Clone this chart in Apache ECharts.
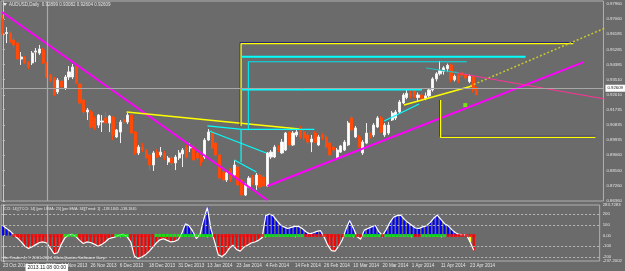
<!DOCTYPE html>
<html><head><meta charset="utf-8">
<script src="https://cdn.jsdelivr.net/npm/echarts@6/dist/echarts.min.js"></script>
<style>html,body{margin:0;padding:0;background:#6b6b6b;overflow:hidden}#c{width:625px;height:271px}</style>
</head><body><div id="c"></div>
<script>
// ---- data ----
const tickIdx = [0,8,16,24,32,40,48,56,64,72,80,88,96,104,112,120,128];
const tickLabels = ['23 Oct 2013','4 Nov 2013','14 Nov 2013','26 Nov 2013','6 Dec 2013','18 Dec 2013','31 Dec 2013','13 Jan 2014','23 Jan 2014','4 Feb 2014','14 Feb 2014','26 Feb 2014','10 Mar 2014','20 Mar 2014','1 Apr 2014','11 Apr 2014','23 Apr 2014'];
const priceTicks = [0.97960,0.97060,0.96185,0.95285,0.94385,0.93510,0.92610,0.91735,0.90835,0.89935,0.89060,0.88160,0.87260,0.86360];
const cciTicks = [283.7283,200,100,0,-100,-200,-237.2002];
const cciLevels = [200,100,-100,-200];
// [open, close, low, high]
const ohlc = [
[.9708,.9625,.9613,.9731],[.9622,.9628,.9566,.9660],[.9625,.9572,.9566,.9637],[.9584,.9555,.9543,.9596],[.9566,.9472,.9466,.9572],
[.9472,.9484,.9437,.9513],[.9484,.9449,.9443,.9490],[.9454,.9425,.9413,.9460],[.9449,.9507,.9437,.9519],[.9513,.9519,.9454,.9537],
[.9507,.9531,.9496,.9555],[.9525,.9449,.9443,.9537],[.9449,.9366,.9360,.9454],[.9378,.9348,.9337,.9384],[.9360,.9260,.9254,.9366],
[.9278,.9348,.9266,.9360],[.9342,.9307,.9295,.9348],[.9301,.9366,.9290,.9378],[.9366,.9396,.9348,.9431],[.9366,.9425,.9354,.9443],
[.9431,.9331,.9325,.9443],[.9325,.9213,.9207,.9331],[.9231,.9160,.9148,.9237],[.9160,.9172,.9113,.9184],[.9160,.9072,.9066,.9172],
[.9125,.9066,.9054,.9136],[.9083,.9142,.9066,.9148],[.9101,.9107,.9042,.9142],[.9125,.9095,.9089,.9160],[.9095,.9136,.9042,.9142],
[.9130,.9025,.8995,.9136],[.9013,.9054,.9007,.9060],[.9042,.9101,.8977,.9113],[.9113,.9101,.9089,.9125],[.9101,.9142,.9089,.9154],
[.9142,.9036,.9030,.9148],[.9042,.8919,.8907,.9048],[.8919,.8954,.8907,.8966],[.8954,.8936,.8924,.8977],[.8936,.8889,.8883,.8942],
[.8907,.8848,.8818,.8919],[.8848,.8919,.8813,.8930],[.8924,.8895,.8889,.8942],[.8907,.8924,.8895,.8954],[.8919,.8889,.8877,.8930],
[.8866,.8889,.8848,.8901],[.8889,.8860,.8848,.8901],[.8860,.8895,.8818,.8907],[.8889,.8919,.8877,.8936],[.8913,.8936,.8836,.8948],
[.8954,.8895,.8889,.8966],[.8948,.8954,.8924,.8977],[.8954,.8877,.8871,.8966],[.8919,.8889,.8877,.8930],[.8895,.8866,.8842,.8907],
[.8895,.8995,.8883,.9007],[.8995,.9042,.8989,.9060],[.9042,.8948,.8942,.9054],[.8977,.8907,.8901,.8983],[.8907,.8771,.8766,.8913],
[.8807,.8760,.8748,.8818],[.8760,.8801,.8748,.8813],[.8818,.8760,.8748,.8830],[.8789,.8848,.8777,.8877],[.8836,.8730,.8724,.8848],
[.8760,.8671,.8659,.8766],[.8671,.8730,.8665,.8742],[.8718,.8771,.8712,.8783],[.8777,.8742,.8730,.8789],[.8730,.8789,.8701,.8801],
[.8789,.8718,.8712,.8801],[.8777,.8724,.8718,.8789],[.8724,.8919,.8718,.8924],[.8895,.8924,.8883,.8936],[.8895,.8954,.8889,.8966],
[.8954,.8936,.8924,.8966],[.8919,.8983,.8913,.9001],[.8936,.9036,.8930,.9042],[.9042,.8966,.8954,.9048],[.8966,.9036,.8960,.9048],
[.9025,.9042,.9013,.9054],[.9066,.9013,.9001,.9078],[.9042,.9007,.8995,.9054],[.9025,.8983,.8971,.9036],[.8983,.9001,.8924,.9025],
[.9036,.8983,.8977,.9048],[.8966,.9013,.8960,.9025],[.9025,.9007,.8995,.9036],[.9013,.8954,.8948,.9025],[.8977,.8907,.8901,.8989],
[.8954,.8936,.8924,.8960],[.8889,.8936,.8877,.8948],[.8924,.8960,.8919,.8966],[.8936,.8983,.8930,.8995],[.8966,.9095,.8960,.9107],
[.9125,.9054,.9048,.9136],[.9013,.9066,.9007,.9078],[.9013,.8954,.8948,.9025],[.8919,.8983,.8907,.8995],[.8977,.9036,.8971,.9095],
[.9036,.9007,.8995,.9048],[.9025,.9083,.9013,.9095],[.9072,.9125,.9066,.9136],[.9125,.9042,.9036,.9136],[.9025,.9083,.9013,.9095],
[.9036,.9083,.9025,.9101],[.9113,.9154,.9107,.9166],[.9125,.9160,.9113,.9172],[.9160,.9219,.9154,.9231],[.9213,.9260,.9207,.9272],
[.9245,.9270,.9235,.9290],[.9270,.9255,.9240,.9285],[.9290,.9250,.9240,.9300],[.9245,.9260,.9225,.9275],[.9260,.9240,.9225,.9270],
[.9240,.9255,.9230,.9275],[.9255,.9290,.9245,.9300],[.9290,.9355,.9280,.9365],[.9355,.9385,.9340,.9395],[.9385,.9405,.9375,.9461],
[.9400,.9420,.9380,.9430],[.9415,.9435,.9395,.9445],[.9435,.9350,.9335,.9445],[.9350,.9370,.9340,.9380],[.9375,.9340,.9330,.9385],
[.9390,.9378,.9365,.9400],[.9380,.9360,.9350,.9390],[.9340,.9370,.9330,.9380],[.9365,.9290,.9275,.9375],[.92899,.92609,.92604,.93082]
];
const cci = [
90,65,40,5,-25,-60,-100,-120,-105,-85,
-65,-60,-70,-120,-170,-160,-80,-20,5,10,
-10,-45,-75,-60,-65,-80,-100,-85,-60,-30,
-20,-10,5,10,-10,-60,-190,-215,-200,-180,
-150,-110,-70,-40,-30,-45,-60,-55,-40,20,
110,90,40,-30,10,150,260,60,-60,-180,
-195,-170,-120,-90,-130,-145,-110,-90,-70,-60,
-45,-20,185,200,185,140,100,80,65,75,
85,85,65,35,15,25,38,45,-15,-90,
-140,-145,-100,-40,60,140,70,-10,-35,50,
65,80,95,35,0,55,120,170,185,190,
150,120,95,70,65,80,90,120,160,190,
150,110,90,55,25,10,6,8,-60,-138.1845
];
// [firstIndex, lastIndex, direction]
const trendRuns = [[3,16,-1],[17,20,1],[21,30,-1],[31,34,1],[35,41,-1],[42,57,1],[58,71,-1],[72,82,1],[83,93,-1],[94,96,1],[97,98,-1],[99,103,1],[104,104,-1],[105,112,1],[113,114,-1],[115,121,1],[122,129,-1]];
const yellowIdx = [3,34,54,71,88,128];
const bid = 0.92609;
const vLineIdx = 12;
const vLineLabel = '2013.11.08 00:00';
// drawn objects: [index, price]
const objMagentaDown = [[-0.23,0.9749],[72.0,0.8642]];
const objMagentaUp = [[72.0,0.8724],[158.1,0.9454]];
const objYellowTrend = [[33.7,0.9160],[80.7,0.9060]];
const objYellowBox = [[155.3,0.9563],[64.85,0.9563],[64.85,0.9078]];
const objNavyBox = [[155.3,0.9569],[64.6,0.9569],[64.6,0.9078]];
const objCyanTop = [[64.85,0.9486],[142.3,0.9486]];
const objCyanBox = [[66.84,0.9053],[66.84,0.9456],[126.3,0.9456]];
const objCyanMid = [[64.85,0.9291],[114.1,0.9291]];
const objRedMid = [[64.85,0.9298],[114.1,0.9298]];
const objCyanA = [[55.7,0.9078],[65.2,0.9058],[84.8,0.9058]];
const objCyanB = [[56.2,0.9048],[71.7,0.8919]];
const objCyanC = [[64.85,0.9054],[64.85,0.8866]];
const objCyanD = [[63.0,0.8877],[69.0,0.8807]];
const objYellowUp = [[109.2,0.9201],[127.7,0.9313]];
const objOliveDot = [[127.2,0.9313],[164,0.9655]];
const objCyanE = [[103.8,0.9107],[113.3,0.9207]];
const objCyanF = [[115.2,0.9419],[124.1,0.9390]];
const objPink = [[123.6,0.9390],[163.8,0.9237]];
const objYellowL = [[119.15,0.9231],[119.15,0.9011],[161.3,0.9011]];
const objNavyL = [[118.9,0.9231],[118.9,0.9017],[161.3,0.9017]];
const objGreenDot = [[125.9,0.9201]];

// ---- chart ----
const FONT = 'Liberation Sans';
const TXT = '#e4e4e4';
const chart = echarts.init(document.getElementById('c'), null, {renderer:'canvas'});
const XMIN = -0.5, XMAX = 163.5;

function seg(pts, color, width, type) {
  return {type:'line', xAxisIndex:0, yAxisIndex:0, data:pts, symbol:'none', silent:true, animation:false,
    lineStyle:{color:color, width:width, type:type||'solid'}, z:4};
}
const trendUp = [], trendDn = [];
trendRuns.forEach(r => { for (let i=r[0]; i<=r[1]; i++) (r[2]>0?trendUp:trendDn).push([i,0]); });

const option = {
  backgroundColor:'#6b6b6b',
  animation:false,
  grid:[
    {left:1, right:20, top:1, height:200, show:true, borderColor:'#b0b0b0', borderWidth:1, backgroundColor:'transparent'},
    {left:1, right:20, top:205, height:56, show:true, borderColor:'#b0b0b0', borderWidth:1, backgroundColor:'transparent'}
  ],
  xAxis:[
    {type:'value', gridIndex:0, min:XMIN, max:XMAX, show:false},
    {type:'value', gridIndex:1, min:XMIN, max:XMAX, axisLine:{show:false}, splitLine:{show:false},
      axisTick:{show:true, customValues:tickIdx, length:2, lineStyle:{color:'#c8c8c8'}},
      axisLabel:{show:true, customValues:tickIdx, align:'left', margin:2, color:TXT, fontSize:4.6, fontFamily:FONT,
        formatter:v => tickLabels[tickIdx.indexOf(Math.round(v))] || ''}}
  ],
  yAxis:[
    {type:'value', gridIndex:0, position:'right', min:0.8636, max:0.98137, scale:true,
      axisLine:{show:true, lineStyle:{color:'#c8c8c8'}}, splitLine:{show:false},
      axisTick:{show:true, customValues:priceTicks, length:2, inside:false, lineStyle:{color:'#c8c8c8'}},
      axisLabel:{show:true, customValues:priceTicks, margin:3, color:TXT, fontSize:4.3, fontFamily:FONT,
        formatter:v => v.toFixed(5)}},
    {type:'value', gridIndex:1, position:'right', min:-237.2002, max:283.7283,
      axisLine:{show:true, lineStyle:{color:'#c8c8c8'}}, splitLine:{show:false},
      axisTick:{show:true, customValues:cciTicks, length:2, lineStyle:{color:'#c8c8c8'}},
      axisLabel:{show:true, customValues:cciTicks, margin:3, color:TXT, fontSize:4.3, fontFamily:FONT,
        formatter:v => v===0 ? '0.00' : (Number.isInteger(v) ? String(v) : v.toFixed(4))}}
  ],
  series:[
    {type:'candlestick', xAxisIndex:0, yAxisIndex:0, barWidth:2.6, silent:true,
      data: ohlc.map((d,i)=>[i,d[0],d[1],d[2],d[3]]),
      itemStyle:{color:'#ffffff', color0:'#ff4a0a', borderColor:'#f0f0f0', borderColor0:'#ff4a0a', borderWidth:1},
      markLine:{symbol:'none', silent:true, animation:false,
        data:[
          {yAxis:bid, lineStyle:{color:'#a8a8a8', width:1, type:'solid'},
            label:{show:true, position:'end', formatter:bid.toFixed(5), backgroundColor:'#ffffff', color:'#222', fontSize:4.3, fontFamily:FONT, padding:[2,2,1,2], distance:2}},
          {xAxis:vLineIdx, lineStyle:{color:'#a8a8a8', width:1.2, type:'solid'}, label:{show:false}}
        ]}, z:2},
    seg(objMagentaDown,'#ff00ff',2),
    seg(objMagentaUp,'#ff00ff',2),
    seg(objYellowTrend,'#ffff00',1.5),
    seg(objNavyBox,'#23237a',1),
    seg(objYellowBox,'#ffff00',1.3),
    seg(objCyanTop,'#00ffff',2),
    seg(objCyanBox,'#00e5ee',1.2),
    seg(objRedMid,'#b03060',1),
    seg(objCyanMid,'#00ffff',1.5),
    seg(objCyanA,'#00ffff',1.2),
    seg(objCyanB,'#00ffff',1.2),
    seg(objCyanC,'#00ffff',1.2),
    seg(objCyanD,'#00ffff',1.2),
    seg(objYellowUp,'#ffff00',1.5),
    seg(objOliveDot,'#c8c832',1.5,[2,2]),
    seg(objCyanE,'#00ffff',1.2),
    seg(objCyanF,'#20c0c0',1.2),
    seg(objPink,'#ff3399',1),
    seg(objNavyL,'#23237a',1),
    seg(objYellowL,'#ffff00',1.3),
    {type:'scatter', xAxisIndex:0, yAxisIndex:0, data:objGreenDot, symbol:'rect', symbolSize:[4,4], itemStyle:{color:'#7cfc00'}, silent:true, z:5},
    // indicator
    {type:'bar', xAxisIndex:1, yAxisIndex:1, barWidth:2.1, silent:true,
      data: cci.map((v,i)=>[i,v]),
      itemStyle:{color: p => yellowIdx.indexOf(p.dataIndex)>=0 ? '#ffff00' : (p.value[1]>=0 ? '#0000ff' : '#ff0000')},
      markLine:{symbol:'none', silent:true, animation:false,
        data: cciLevels.map(v=>({yAxis:v, lineStyle:{color:'#b8b8b8', width:1, type:[2,2]}, label:{show:false}}))
          .concat([{xAxis:vLineIdx, lineStyle:{color:'#a8a8a8', width:1.2, type:'solid'},
            label:{show:true, position:'start', formatter:vLineLabel, backgroundColor:'#ffffff', color:'#222', fontSize:5, fontFamily:FONT, padding:[1,2,1,2], distance:3}}])
      }, z:2},
    {type:'line', xAxisIndex:1, yAxisIndex:1, data: cci.map((v,i)=>[i,v]), symbol:'none', silent:true,
      lineStyle:{color:'#ffffff', width:1.2}, z:3},
    {type:'scatter', xAxisIndex:1, yAxisIndex:1, data:trendUp, symbol:'rect', symbolSize:[3,3], itemStyle:{color:'#00ff00'}, silent:true, z:4},
    {type:'scatter', xAxisIndex:1, yAxisIndex:1, data:trendDn, symbol:'rect', symbolSize:[3,3], itemStyle:{color:'#ff0000'}, silent:true, z:4}
  ],
  graphic:[
    {type:'polygon', shape:{points:[[3,3],[7,3],[5,6]]}, style:{fill:'#e4e4e4'}, z:10},
    {type:'text', left:9, top:2, style:{text:'AUDUSD,Daily  0.92899 0.93082 0.92604 0.92609', fill:TXT, fontSize:4.5, fontFamily:FONT}, z:10},
    {type:'text', left:3, top:206.5, style:{text:'[CCI: 14] [TCCI: 14] [per LSMA: 25] [per EMA: 34][Trend: 1]  -138.1845 -138.1845', fill:TXT, fontSize:3.7, fontFamily:FONT}, z:10},
    {type:'text', left:3, top:256, style:{text:'Go Trader 4, \u00a9 2001-2014, MetaQuotes Software Corp.', fill:TXT, fontSize:4.2, fontFamily:FONT}, z:10}
  ]
};
chart.setOption(option);
</script></body></html>
